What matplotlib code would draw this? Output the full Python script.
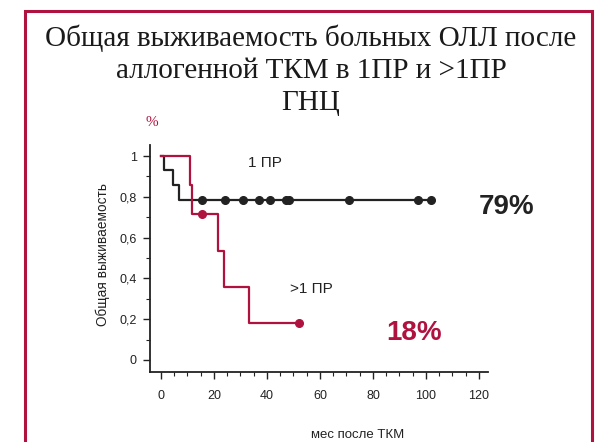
#!/usr/bin/env python3
"""Kaplan-Meier style overall survival chart (ALL after allo-BMT, 1 CR vs >1 CR)."""

import matplotlib

matplotlib.use("Agg")
import matplotlib.pyplot as plt
from matplotlib.patches import Rectangle
from matplotlib.ticker import MultipleLocator, FixedLocator

# Step curves: time (months) of each step and survival after that step
CR1_TIMES = [0, 1.2, 4.4, 6.8, 102]
CR1_SURV = [1.0, 0.929, 0.857, 0.786, 0.786]
CR1_CENSOR_T = [15.5, 24.2, 30.8, 37.0, 41.0, 47.0, 48.2, 71.0, 97.0, 102.0]

CR2_TIMES = [0, 11.0, 11.6, 21.4, 23.8, 33.3, 52.0]
CR2_SURV = [1.0, 0.857, 0.714, 0.536, 0.357, 0.179, 0.179]
CR2_CENSOR_T = [15.5, 52.0]
CR2_CENSOR_S = [0.714, 0.179]

Y_TICKS = [0, 0.2, 0.4, 0.6, 0.8, 1.0]
Y_TICK_LABELS = ["0", "0,2", "0,4", "0,6", "0,8", "1"]
X_TICKS = [0, 20, 40, 60, 80, 100, 120]

BLACK = "#222222"
RED = "#b0123f"
SANS = "Liberation Sans"

W, H = 609, 442
fig = plt.figure(figsize=(W / 100, H / 100), dpi=100)


def px(x, y):
    """Pixel position (from top-left) -> figure fraction."""
    return x / W, 1 - y / H


# red frame around the slide content (continues past the bottom edge)
fig.patches.append(
    Rectangle((25 / W, -0.05), (592 - 25) / W, 1.05 - 11 / H,
              transform=fig.transFigure, fill=False, edgecolor=RED, linewidth=2.2)
)

title_lines = ["Общая выживаемость больных ОЛЛ после", "аллогенной ТКМ в 1ПР и >1ПР", "ГНЦ"]
for i, line in enumerate(title_lines):
    fig.text(*px(311, 38 + 32.5 * i), line, ha="center", va="center",
             family="Liberation Serif", fontsize=21, color="#1a1a1a")

ax = fig.add_axes([150 / W, 1 - 372 / H, (488 - 150) / W, (372 - 145) / H])
ax.set_xlim(-4.15, 123.4)
ax.set_ylim(-0.059, 1.054)

ax.step(CR1_TIMES, CR1_SURV, where="post", color=BLACK, lw=1.6)
ax.plot(CR1_CENSOR_T, [CR1_SURV[-1]] * len(CR1_CENSOR_T), "o", color=BLACK, ms=5.5)
ax.step(CR2_TIMES, CR2_SURV, where="post", color=RED, lw=1.6)
ax.plot(CR2_CENSOR_T, CR2_CENSOR_S, "o", color=RED, ms=5.5)

for side in ("top", "right"):
    ax.spines[side].set_visible(False)
for side in ("left", "bottom"):
    ax.spines[side].set_linewidth(1.3)
    ax.spines[side].set_color(BLACK)

ax.yaxis.set_major_locator(FixedLocator(Y_TICKS))
ax.set_yticklabels(Y_TICK_LABELS)
ax.yaxis.set_minor_locator(MultipleLocator(0.1))
ax.xaxis.set_major_locator(FixedLocator(X_TICKS))
ax.xaxis.set_minor_locator(MultipleLocator(5))
ax.tick_params(which="major", length=5, width=1, colors=BLACK, labelsize=9)
ax.tick_params(which="minor", length=3, width=0.8, colors=BLACK)
ax.tick_params(axis="x", which="major", pad=8)
ax.tick_params(axis="y", which="major", pad=4.5)
for lab in ax.get_xticklabels() + ax.get_yticklabels():
    lab.set_family(SANS)

fig.text(*px(103, 255), "Общая выживаемость", rotation=90, ha="center", va="center",
         family=SANS, fontsize=9.8, color=BLACK)
fig.text(*px(358, 435), "мес после ТКМ", ha="center", va="center",
         family=SANS, fontsize=9.5, color=BLACK)

ax.text(39.2, 0.966, "1 ПР", family=SANS, fontsize=11, color=BLACK,
        ha="center", va="center")
ax.text(56.8, 0.348, ">1 ПР", family=SANS, fontsize=11, color=BLACK,
        ha="center", va="center")
fig.text(*px(507, 207.5), "79%", family=SANS, fontsize=20,
         fontweight="bold", color=BLACK, ha="center", va="center")
fig.text(*px(414.5, 332.5), "18%", family=SANS, fontsize=20,
         fontweight="bold", color=RED, ha="center", va="center")
fig.text(*px(152, 123), "%", family="Liberation Serif", fontsize=11,
         color=RED, ha="center", va="center")

fig.savefig("out.png", dpi=100)
